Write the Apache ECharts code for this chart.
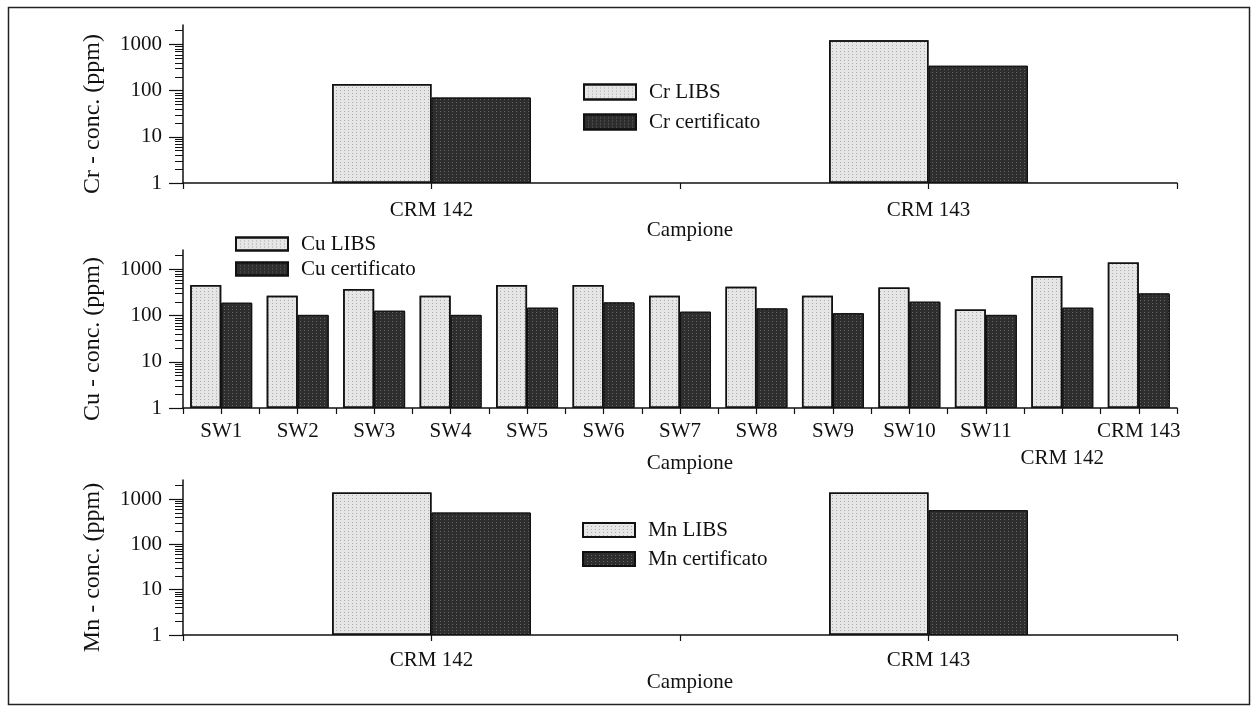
<!DOCTYPE html>
<html>
<head>
<meta charset="utf-8">
<title>Concentrazioni Cr, Cu, Mn</title>
<script src="https://cdn.jsdelivr.net/npm/echarts@6/dist/echarts.min.js"></script>
<style>
  html, body { margin: 0; padding: 0; background: #ffffff; }
  #chart { width: 1253px; height: 707px; }
</style>
</head>
<body>
<div id="chart"></div>
<script>
// Campioni e concentrazioni (ppm)
const crSamples = ['CRM 142', 'CRM 143'];
const crLibs = [140, 1245];
const crCert = [71, 347];

const cuSamples = ['SW1', 'SW2', 'SW3', 'SW4', 'SW5', 'SW6', 'SW7', 'SW8', 'SW9', 'SW10', 'SW11', 'CRM 142', 'CRM 143'];
const cuLibs = [460, 271, 377, 271, 460, 460, 271, 424, 271, 410, 137, 720, 1422];
const cuCert = [191, 104, 128, 104, 149, 194, 122, 144, 113, 201, 104, 149, 304];

const mnSamples = ['CRM 142', 'CRM 143'];
const mnLibs = [1409, 1409];
const mnCert = [506, 570];

// Tacche dell'asse logaritmico
const logMajorTicks = [1, 10, 100, 1000];
const logMinorTicks = [2, 3, 4, 5, 6, 7, 8, 9, 20, 30, 40, 50, 60, 70, 80, 90,
                       200, 300, 400, 500, 600, 700, 800, 900, 2000];
const logMin = 1;
const logMax = 2650;

const FONT = "'Liberation Serif', 'Times New Roman', serif";
const INK = '#111111';

const lightStyle = {
  color: '#e6e6e6',
  borderColor: '#111111',
  borderWidth: 1.5,
  decal: {
    symbol: 'rect',
    symbolSize: 1,
    dashArrayX: [1, 3],
    dashArrayY: [1, 2],
    color: 'rgba(60,60,60,0.35)',
    rotation: 0
  }
};
const darkStyle = {
  color: '#2e2e2e',
  borderColor: '#111111',
  borderWidth: 1,
  decal: {
    symbol: 'rect',
    symbolSize: 1,
    dashArrayX: [1, 3],
    dashArrayY: [1, 2],
    color: 'rgba(200,200,200,0.35)',
    rotation: 0
  }
};

// Tre pannelli: posizione verticale dell'area di disegno
const panels = [
  { top: 25,  height: 158, samples: crSamples, libs: crLibs, cert: crCert, el: 'Cr',
    barWidth: '20%', labelMargin: 15, nameGap: 35,
    legend: { left: 583, top: 80, itemGap: 6, itemHeight: 15 } },
  { top: 250, height: 158, samples: cuSamples, libs: cuLibs, cert: cuCert, el: 'Cu',
    barWidth: '40.5%', labelMargin: 10, nameGap: 43,
    legend: { left: 235, top: 232, itemGap: 1, itemHeight: 13 } },
  { top: 480, height: 155, samples: mnSamples, libs: mnLibs, cert: mnCert, el: 'Mn',
    barWidth: '20%', labelMargin: 13, nameGap: 35,
    legend: { left: 582, top: 518, itemGap: 5, itemHeight: 14 } }
];

const grid = [], xAxis = [], yAxis = [], series = [], legend = [];

panels.forEach((p, g) => {
  grid.push({ left: 183, right: 76, top: p.top, height: p.height });

  // asse delle categorie: tacche sui bordi, etichette e nome
  xAxis.push({
    type: 'category', gridIndex: g, position: 'bottom',
    data: p.samples, boundaryGap: true,
    name: 'Campione', nameLocation: 'middle', nameGap: p.nameGap,
    nameMoveOverlap: false,
    nameTextStyle: { fontFamily: FONT, fontSize: 21, color: INK, lineHeight: 24, padding: [0, 0, 0, 20] },
    axisLine: { lineStyle: { color: INK, width: 1.5 } },
    axisTick: { show: true, interval: 0, length: 6, lineStyle: { color: INK, width: 1.2 } },
    axisLabel: {
      interval: 0, margin: p.labelMargin, fontFamily: FONT, fontSize: 21, color: INK,
      lineHeight: g === 1 ? 27 : 24,
      formatter: v => (g === 1 && v === 'CRM 142') ? '\n' + v : v
    },
    splitLine: { show: false }
  });
  // tacche al centro di ogni categoria
  xAxis.push({
    type: 'category', gridIndex: g, position: 'bottom',
    data: p.samples, boundaryGap: true,
    axisLine: { show: false },
    axisTick: { show: true, alignWithLabel: true, interval: 0, length: 6, lineStyle: { color: INK, width: 1.2 } },
    axisLabel: { show: false },
    splitLine: { show: false }
  });

  // asse logaritmico principale
  yAxis.push({
    type: 'log', logBase: 10, gridIndex: g, position: 'left',
    min: logMin, max: logMax,
    name: p.el + ' - conc. (ppm)', nameLocation: 'middle', nameGap: 78,
    nameMoveOverlap: false,
    nameTextStyle: { fontFamily: FONT, fontSize: 24, color: INK, padding: [0, 20, 0, 0] },
    axisLine: { show: true, lineStyle: { color: INK, width: 1.5 } },
    axisTick: { show: true, length: 14, customValues: logMajorTicks, lineStyle: { color: INK, width: 1.2 } },
    axisLabel: {
      customValues: logMajorTicks, margin: 21,
      fontFamily: FONT, fontSize: 21, color: INK,
      formatter: v => String(Math.round(v))
    },
    splitLine: { show: false }
  });
  // tacche secondarie 2..9 di ogni decade
  yAxis.push({
    type: 'log', logBase: 10, gridIndex: g, position: 'left',
    min: logMin, max: logMax,
    axisLine: { show: false },
    axisTick: { show: true, length: 8, customValues: logMinorTicks, lineStyle: { color: INK, width: 1 } },
    axisLabel: { show: false },
    splitLine: { show: false }
  });

  series.push({
    name: p.el + ' LIBS', type: 'bar',
    xAxisIndex: 2 * g, yAxisIndex: 2 * g,
    data: p.libs, barWidth: p.barWidth, barGap: '0%',
    itemStyle: lightStyle
  });
  series.push({
    name: p.el + ' certificato', type: 'bar',
    xAxisIndex: 2 * g, yAxisIndex: 2 * g,
    data: p.cert, barWidth: p.barWidth, barGap: '0%',
    itemStyle: darkStyle
  });

  legend.push({
    data: [p.el + ' LIBS', p.el + ' certificato'],
    orient: 'vertical', left: p.legend.left, top: p.legend.top, padding: 0,
    itemWidth: 52, itemHeight: p.legend.itemHeight, itemGap: p.legend.itemGap,
    icon: 'rect', selectedMode: false,
    textStyle: { fontFamily: FONT, fontSize: 21, color: INK, lineHeight: 24, padding: [0, 0, 0, 8] }
  });
});

const chart = echarts.init(document.getElementById('chart'), null, { renderer: 'canvas' });
chart.setOption({
  animation: false,
  backgroundColor: '#ffffff',
  textStyle: { fontFamily: FONT },
  graphic: [{
    type: 'rect', left: 6, top: 5, silent: true,
    shape: { width: 1241, height: 697 },
    style: { fill: 'none', stroke: '#222222', lineWidth: 1.5 }
  }],
  grid, xAxis, yAxis, series, legend
});
</script>
</body>
</html>
